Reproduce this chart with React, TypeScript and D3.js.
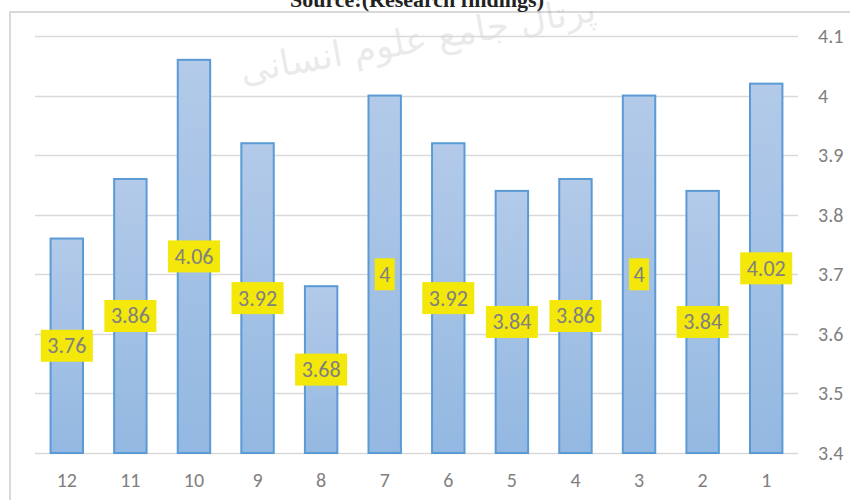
import { useEffect, useRef } from "react";
import * as d3 from "d3";

// Categories appear in reverse order, 12 → 1
const categories = ["12", "11", "10", "9", "8", "7", "6", "5", "4", "3", "2", "1"];
const values = [3.76, 3.86, 4.06, 3.92, 3.68, 4.0, 3.92, 3.84, 3.86, 4.0, 3.84, 4.02];
const yTicks = [3.4, 3.5, 3.6, 3.7, 3.8, 3.9, 4.0, 4.1];

const W = 850;
const H = 500;
const FONT = "Carlito, Calibri, 'Liberation Sans', 'DejaVu Sans', sans-serif";

export default function App() {
  const svgRef = useRef<SVGSVGElement>(null);

  useEffect(() => {
    const svg = d3.select(svgRef.current);
    svg.selectAll("*").remove();

    const left = 35;
    const right = 798;
    const top = 36;
    const bottom = 453;

    const x = d3.scaleBand<string>().domain(categories).range([left, right]).paddingInner(0.49).paddingOuter(0.245);
    const y = d3.scaleLinear().domain([3.4, 4.1]).range([bottom, top]);

    const defs = svg.append("defs");
    const grad = defs.append("linearGradient").attr("id", "barGrad")
      .attr("x1", 0).attr("y1", 0).attr("x2", 0).attr("y2", 1);
    grad.append("stop").attr("offset", "0%").attr("stop-color", "#b3cae9");
    grad.append("stop").attr("offset", "100%").attr("stop-color", "#93b8e1");

    // outer chart frame
    svg.append("path")
      .attr("d", `M10,${H} L10,12 L${W},12`)
      .attr("fill", "none").attr("stroke", "#d9d9d9").attr("stroke-width", 2);

    // watermark
    svg.append("text")
      .attr("transform", "translate(420,52) rotate(-10)")
      .attr("text-anchor", "middle")
      .attr("font-family", "'DejaVu Sans', sans-serif")
      .attr("font-size", 36)
      .attr("fill", "#000").attr("opacity", 0.08)
      .text("پرتال جامع علوم انسانی");

    // title (cut off at top, as in the source image)
    svg.append("text")
      .attr("x", 417).attr("y", 7)
      .attr("text-anchor", "middle")
      .attr("font-family", "'Times New Roman', 'Liberation Serif', serif")
      .attr("font-weight", "bold").attr("font-size", 22)
      .attr("fill", "#222")
      .text("Source:(Research findings)");

    // gridlines
    svg.append("g").selectAll("line").data(yTicks).join("line")
      .attr("x1", left).attr("x2", right)
      .attr("y1", (d) => Math.round(y(d)) + 0.5).attr("y2", (d) => Math.round(y(d)) + 0.5)
      .attr("stroke", "#d9d9d9").attr("stroke-width", 1.3);

    // right axis labels
    svg.append("g").selectAll("text").data(yTicks).join("text")
      .attr("x", 818).attr("y", (d) => y(d))
      .attr("dominant-baseline", "central")
      .attr("font-family", FONT).attr("font-size", 20)
      .attr("fill", "#7f7f7f")
      .text((d) => d3.format("")(+d.toFixed(1)));

    // bars
    svg.append("g").selectAll("rect").data(values).join("rect")
      .attr("x", (_, i) => x(categories[i])!)
      .attr("y", (d) => y(d))
      .attr("width", x.bandwidth())
      .attr("height", (d) => bottom - y(d))
      .attr("fill", "url(#barGrad)")
      .attr("stroke", "#5b9bd5").attr("stroke-width", 2);

    // category labels
    svg.append("g").selectAll("text").data(categories).join("text")
      .attr("x", (d) => x(d)! + x.bandwidth() / 2).attr("y", 480)
      .attr("text-anchor", "middle").attr("dominant-baseline", "central")
      .attr("font-family", FONT).attr("font-size", 20)
      .attr("fill", "#7f7f7f")
      .text((d) => d);

    // data labels, centred in bars
    const lab = svg.append("g").selectAll("g").data(values).join("g")
      .attr("transform", (d, i) => `translate(${x(categories[i])! + x.bandwidth() / 2},${(y(d) + bottom) / 2})`);
    lab.append("rect")
      .attr("x", (d) => (String(d).length > 1 ? -26 : -10))
      .attr("width", (d) => (String(d).length > 1 ? 52 : 20))
      .attr("y", -16).attr("height", 32)
      .attr("fill", "#f3e80a");
    lab.append("text")
      .attr("text-anchor", "middle").attr("dominant-baseline", "central")
      .attr("font-family", FONT).attr("font-size", 22)
      .attr("fill", "#808080")
      .text((d) => String(d));
  }, []);

  return (
    <svg ref={svgRef} width={W} height={H} style={{ position: "absolute", left: 0, top: 0, background: "#fff" }} />
  );
}
